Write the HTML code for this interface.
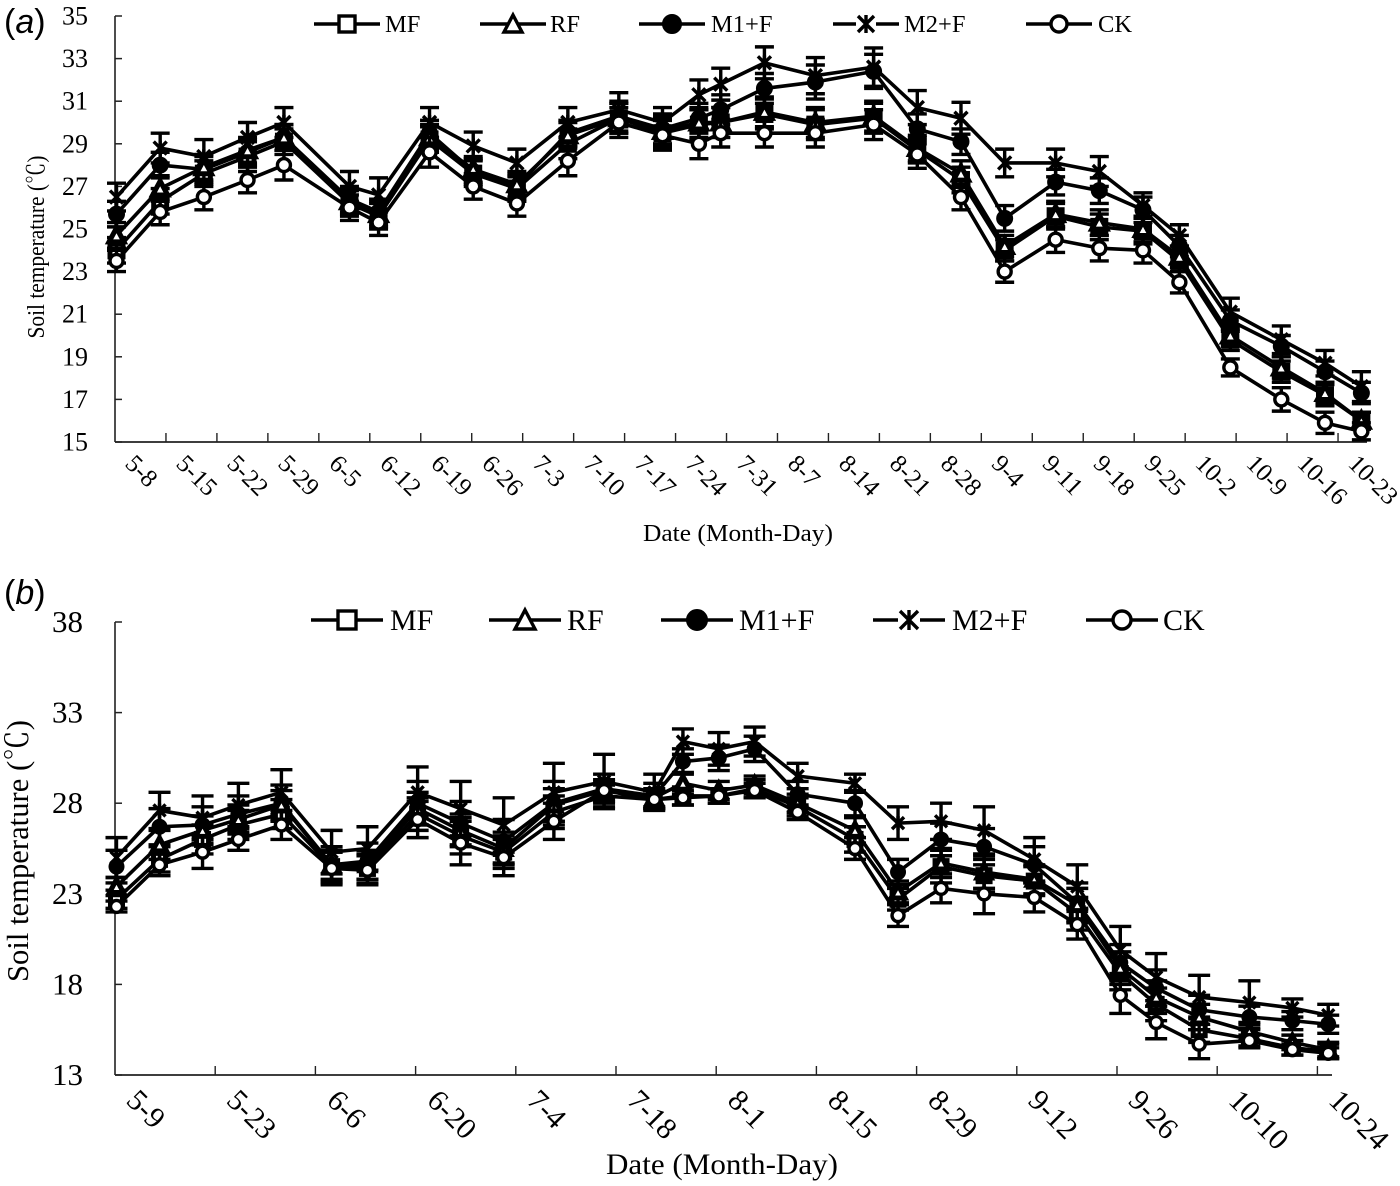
<!DOCTYPE html>
<html lang="en">
<head>
<meta charset="utf-8">
<title>Soil temperature panels</title>
<style>
html,body{margin:0;padding:0;background:#fff;}
svg{display:block;font-family:"Liberation Serif","Noto Serif CJK SC",serif;fill:#000;filter:blur(0.35px);}
</style>
</head>
<body>
<svg id="chart" xmlns="http://www.w3.org/2000/svg" width="1400" height="1186" viewBox="0 0 1400 1186">
<rect x="0" y="0" width="1400" height="1186" fill="#fff"/>
<g font-family="'Liberation Sans',sans-serif" font-size="34"><text x="4" y="33">(<tspan font-style="italic">a</tspan>)</text></g>
<g font-family="'Liberation Sans',sans-serif" font-size="34"><text x="4" y="604">(<tspan font-style="italic">b</tspan>)</text></g>
<text font-size="24" text-anchor="middle" textLength="183" lengthAdjust="spacingAndGlyphs" transform="translate(44,247) rotate(-90)">Soil temperature (℃)</text>
<text font-size="24" text-anchor="middle" x="738" y="541" textLength="190" lengthAdjust="spacingAndGlyphs">Date (Month-Day)</text>
<text font-size="31" text-anchor="middle" textLength="262" lengthAdjust="spacingAndGlyphs" transform="translate(28,851) rotate(-90)">Soil temperature (℃)</text>
<text font-size="30" text-anchor="middle" x="722" y="1174" textLength="232" lengthAdjust="spacingAndGlyphs">Date (Month-Day)</text>
</svg>
<script>
// Panel (a) data
const aTickLabels = ["5-8","5-15","5-22","5-29","6-5","6-12","6-19","6-26","7-3","7-10","7-17","7-24","7-31","8-7","8-14","8-21","8-28","9-4","9-11","9-18","9-25","10-2","10-9","10-16","10-23"];
const aYTicks = [15,17,19,21,23,25,27,29,31,33,35];
const aDays = [0,6,12,18,23,32,36,43,49,55,62,69,75,80,83,89,96,104,110,116,122,129,135,141,146,153,160,166,171];
const aMF = [24,26.3,27.6,28.4,29.1,26.2,25.6,29.2,27.6,26.9,29,30.2,29.5,29.9,30,30.4,29.9,30.2,28.7,27.3,24,25.6,25.1,24.9,23.5,19.8,18.3,17.2,16];
const aRF = [24.7,26.9,27.9,28.7,29.3,26.3,25.7,29.3,27.8,27.1,29.4,30.2,29.6,30,30,30.5,30,30.3,28.8,27.6,24.2,25.7,25.3,25,23.7,20,18.5,17.3,16];
const aM1 = [25.7,28,27.8,28.6,29.3,26.4,25.8,29.5,27.7,27,29.5,30.3,29.7,30.2,30.6,31.6,31.9,32.4,29.7,29.1,25.5,27.2,26.8,25.9,24.2,20.7,19.5,18.3,17.3];
const aM2 = [26.5,28.8,28.4,29.3,30,27,26.6,30,28.9,28.1,30,30.6,30,31.3,31.8,32.8,32.2,32.6,30.7,30.2,28.1,28.1,27.7,26.1,24.7,21.1,19.8,18.7,17.6];
const aCK = [23.5,25.8,26.5,27.3,28,26,25.3,28.6,27,26.2,28.2,30,29.4,29,29.5,29.5,29.5,29.9,28.5,26.5,23,24.5,24.1,24,22.5,18.5,17,15.9,15.5];
const aErrMF = [.6,.6,.6,.7,.6,.6,.6,.6,.6,.6,.7,.7,.7,.7,.7,.7,.7,.7,.6,.6,.5,.6,.6,.6,.5,.5,.5,.5,.4];
const aErrRF = [.6,.6,.6,.6,.6,.6,.6,.6,.6,.6,.6,.7,.7,.7,.7,.7,.7,.7,.6,.6,.5,.6,.6,.6,.5,.5,.5,.5,.4];
const aErrM1 = [.6,.6,.6,.6,.6,.6,.6,.6,.6,.6,.6,.7,.7,.7,.7,.7,.8,.8,.7,.6,.6,.6,.6,.6,.5,.5,.5,.5,.5];
const aErrM2 = [.65,.7,.8,.7,.7,.7,.8,.7,.65,.65,.7,.8,.7,.7,.75,.75,.85,.9,.8,.75,.65,.65,.7,.6,.5,.65,.65,.6,.7];
const aErrCK = [.5,.6,.6,.6,.7,.6,.6,.7,.6,.6,.7,.7,.7,.7,.65,.65,.65,.7,.65,.6,.5,.6,.6,.6,.5,.4,.55,.5,.4];

// Panel (b) data
const bTickLabels = ["5-9","5-23","6-6","6-20","7-4","7-18","8-1","8-15","8-29","9-12","9-26","10-10","10-24"];
const bYTicks = [13,18,23,28,33,38];
const bDays = [0,6,12,17,23,30,35,42,48,54,61,68,75,79,84,89,95,103,109,115,121,128,134,140,145,151,158,164,169];
const bMF = [22.7,24.9,26,26.8,27.4,24.5,24.4,27.4,26.2,25.3,27.5,28.4,28.2,28.4,28.4,28.8,27.8,26,22.7,24.5,24,23.7,21.9,18.6,16.9,15.5,15,14.5,14.3];
const bRF = [23.4,25.7,26.5,27.1,27.9,24.6,24.6,27.7,26.5,25.5,27.9,28.7,28.3,29.1,28.7,29,28,26.5,23.1,24.7,24.2,23.8,22.4,18.9,17.3,16.2,15.4,14.8,14.4];
const bM1 = [24.5,26.7,26.8,27.4,28,24.6,24.8,28,26.9,25.9,28,28.8,28.4,30.3,30.5,31,28.5,28,24.2,26,25.6,24.6,22.5,19.2,17.8,16.6,16.2,16,15.8];
const bM2 = [25,27.6,27.2,27.9,28.6,25.3,25.5,28.6,27.7,26.8,28.6,29.2,28.6,31.4,31,31.4,29.5,29.1,26.9,27,26.5,24.9,23.4,19.9,18.4,17.3,17,16.7,16.3];
const bCK = [22.3,24.6,25.3,26,26.8,24.4,24.3,27.1,25.8,25,27,28.7,28.2,28.3,28.4,28.7,27.5,25.5,21.8,23.3,23,22.8,21.3,17.4,15.9,14.7,14.9,14.4,14.2];
const bErrMF = [.5,.7,.8,.8,.8,.8,.8,.9,1,.9,.9,.6,.5,.5,.4,.5,.5,.7,.6,.9,.9,.8,.9,.9,.9,.7,.5,.4,.4];
const bErrRF = [.5,.8,.8,.8,.8,.8,.8,.9,.9,.9,.9,.6,.5,.6,.5,.5,.5,.7,.6,.8,.9,.8,.9,.9,.9,.7,.5,.4,.4];
const bErrM1 = [.9,1,1,1,1,1,1,1.2,1.2,1.2,1.2,.8,.7,.7,.7,.7,.7,.7,.7,.9,1,1,1.1,1,1,.8,.6,.5,.5];
const bErrM2 = [1.1,1,1.2,1.2,1.25,1.2,1.2,1.4,1.5,1.5,1.6,1.5,1,.7,.9,.8,.7,.5,.9,1,1.3,1.2,1.2,1.3,1.3,1.2,1.2,.5,.6];
const bErrCK = [.3,.6,.9,.6,.8,.9,.8,1,1.2,1,1,.5,.5,.4,.4,.4,.4,.6,.6,.8,1.1,.8,.8,1,.9,.8,.3,.3,.3];

const svg = document.getElementById('chart');
const NS = 'http://www.w3.org/2000/svg';

function node(parent, tag, props) {
  const el = document.createElementNS(NS, tag);
  for (const k in props) el.setAttribute(k, props[k]);
  parent.appendChild(el);
  return el;
}

function drawMarker(parent, kind, x, y, s, sw) {
  let m;
  if (kind === 'square') {
    m = node(parent, 'rect', {x: x - s, y: y - s, width: 2 * s, height: 2 * s, fill: '#fff', stroke: '#000', 'stroke-width': sw});
  } else if (kind === 'triangle') {
    m = node(parent, 'polygon', {points: (x) + ',' + (y - s - 1) + ' ' + (x + s + 1) + ',' + (y + s) + ' ' + (x - s - 1) + ',' + (y + s), fill: '#fff', stroke: '#000', 'stroke-width': sw});
  } else if (kind === 'disc') {
    m = node(parent, 'circle', {cx: x, cy: y, r: s + 1, fill: '#000', stroke: '#000', 'stroke-width': 2});
  } else if (kind === 'star') {
    const d = 'M' + (x - s) + ' ' + (y - s) + 'L' + (x + s) + ' ' + (y + s) + 'M' + (x + s) + ' ' + (y - s) + 'L' + (x - s) + ' ' + (y + s) + 'M' + x + ' ' + (y - s - 1) + 'L' + x + ' ' + (y + s + 1);
    m = node(parent, 'path', {d: d, fill: 'none', stroke: '#000', 'stroke-width': 3.4});
  } else {
    m = node(parent, 'circle', {cx: x, cy: y, r: s, fill: '#fff', stroke: '#000', 'stroke-width': 3.4});
  }
  
  
}

function drawPanel(p) {
  const root = node(svg, 'g', {});
  
  
  const yMin = p.yTicks[0];
  const yMax = p.yTicks[p.yTicks.length - 1];
  const xScale = d => p.x0 + p.pxPerDay * d;
  const yScale = v => p.yBottom - (v - yMin) * (p.yBottom - p.yTop) / (yMax - yMin);

  const axisY = node(root, 'line', {x1: p.axisX, x2: p.axisX, y1: p.yTop, y2: p.yBottom, stroke: '#222', 'stroke-width': 1.6});
  
  
  const axisX = node(root, 'line', {x1: p.axisX, x2: p.axisEnd, y1: p.yBottom, y2: p.yBottom, stroke: '#222', 'stroke-width': 1.8});
  
  

  p.yTicks.forEach(v => {
    const t = node(root, 'line', {x1: p.axisX, x2: p.axisX + 7, y1: yScale(v), y2: yScale(v), stroke: '#222', 'stroke-width': 1.5});
    
    
    const lab = node(root, 'text', {x: p.yLabelX, y: yScale(v) + p.yLabelDy, 'font-size': p.tickFont, 'text-anchor': 'end'});
    lab.textContent = String(v);
    
    
  });

  p.xLabels.forEach((label, i) => {
    const x = p.axisX + i * p.xTickStep;
    if (i > 0) {
      const t = node(root, 'line', {x1: x, x2: x, y1: p.yBottom - 9, y2: p.yBottom, stroke: '#222', 'stroke-width': 1.4});
      
      
    }
    const lx = x + p.xLabelDx;
    const ly = p.yBottom + p.xLabelDy;
    const lab = node(root, 'text', {x: lx, y: ly, 'font-size': p.xLabelFont, transform: 'rotate(45 ' + lx + ' ' + ly + ')'});
    lab.textContent = label;
    
    
  });

  p.series.forEach(s => {
    const g = node(root, 'g', {});
    
    
    s.err.forEach((e, i) => {
      const x = xScale(p.days[i]);
      const top = yScale(s.values[i] + e);
      const bot = yScale(s.values[i] - e);
      const d = 'M' + x + ' ' + top + 'L' + x + ' ' + bot + 'M' + (x - p.cap) + ' ' + top + 'L' + (x + p.cap) + ' ' + top + 'M' + (x - p.cap) + ' ' + bot + 'L' + (x + p.cap) + ' ' + bot;
      const bar = node(g, 'path', {d: d, fill: 'none', stroke: '#000', 'stroke-width': 3.4});
      
      
    });
    const pts = s.values.map((v, i) => xScale(p.days[i]) + ',' + yScale(v)).join(' ');
    const line = node(g, 'polyline', {points: pts, fill: 'none', stroke: '#000', 'stroke-width': 3.6, 'stroke-linejoin': 'round'});
    
    
    s.values.forEach((v, i) => drawMarker(g, s.kind, xScale(p.days[i]), yScale(v), p.markerSize, 5));
  });

  p.legend.forEach(item => {
    const g = node(root, 'g', {});
    
    
    const ln = node(g, 'line', {x1: item.mx - p.legendHalf, x2: item.mx + p.legendHalf, y1: p.legendY, y2: p.legendY, stroke: '#000', 'stroke-width': 3.6});
    
    
    if (item.kind === 'star') {
      const gap = node(g, 'rect', {x: item.mx - p.legendMarker - 2, y: p.legendY - 4, width: 2 * p.legendMarker + 4, height: 8, fill: '#fff'});
      
      
    }
    drawMarker(g, item.kind, item.mx, p.legendY, p.legendMarker, 3.4);
    const t = node(g, 'text', {x: item.tx, y: p.legendY + p.legendDy, 'font-size': p.legendFont});
    t.textContent = item.label;
    
    
  });
}

drawPanel({
  id: 'a', yTicks: aYTicks, xLabels: aTickLabels, days: aDays,
  x0: 116.5, pxPerDay: 7.28, yTop: 16, yBottom: 442, axisX: 115, axisEnd: 1367, xTickStep: 50.96,
  yLabelX: 88, yLabelDy: 8.5, tickFont: 26, xLabelDx: 9, xLabelDy: 23, xLabelFont: 25,
  cap: 9.5, markerSize: 6.5,
  series: [
    {key: 'm1-f', kind: 'disc', values: aM1, err: aErrM1},
    {key: 'm2-f', kind: 'star', values: aM2, err: aErrM2},
    {key: 'mf', kind: 'square', values: aMF, err: aErrMF},
    {key: 'rf', kind: 'triangle', values: aRF, err: aErrRF},
    {key: 'ck', kind: 'circle', values: aCK, err: aErrCK}
  ],
  legendY: 24, legendHalf: 33, legendMarker: 8, legendDy: 8, legendFont: 24.5,
  legend: [
    {label: 'MF', kind: 'square', mx: 347, tx: 385},
    {label: 'RF', kind: 'triangle', mx: 513, tx: 550},
    {label: 'M1+F', kind: 'disc', mx: 672, tx: 711},
    {label: 'M2+F', kind: 'star', mx: 866, tx: 904},
    {label: 'CK', kind: 'circle', mx: 1059, tx: 1098}
  ]
});

drawPanel({
  id: 'b', yTicks: bYTicks, xLabels: bTickLabels, days: bDays,
  x0: 116.5, pxPerDay: 7.17, yTop: 622, yBottom: 1075, axisX: 115, axisEnd: 1332, xTickStep: 100.2,
  yLabelX: 83, yLabelDy: 10, tickFont: 31, xLabelDx: 10, xLabelDy: 27, xLabelFont: 30,
  cap: 11, markerSize: 6,
  series: [
    {key: 'm1-f', kind: 'disc', values: bM1, err: bErrM1},
    {key: 'm2-f', kind: 'star', values: bM2, err: bErrM2},
    {key: 'mf', kind: 'square', values: bMF, err: bErrMF},
    {key: 'rf', kind: 'triangle', values: bRF, err: bErrRF},
    {key: 'ck', kind: 'circle', values: bCK, err: bErrCK}
  ],
  legendY: 620, legendHalf: 36, legendMarker: 9, legendDy: 10, legendFont: 30,
  legend: [
    {label: 'MF', kind: 'square', mx: 347, tx: 390},
    {label: 'RF', kind: 'triangle', mx: 525, tx: 567},
    {label: 'M1+F', kind: 'disc', mx: 697, tx: 739},
    {label: 'M2+F', kind: 'star', mx: 909, tx: 952},
    {label: 'CK', kind: 'circle', mx: 1122, tx: 1163}
  ]
});
</script>
</body>
</html>
